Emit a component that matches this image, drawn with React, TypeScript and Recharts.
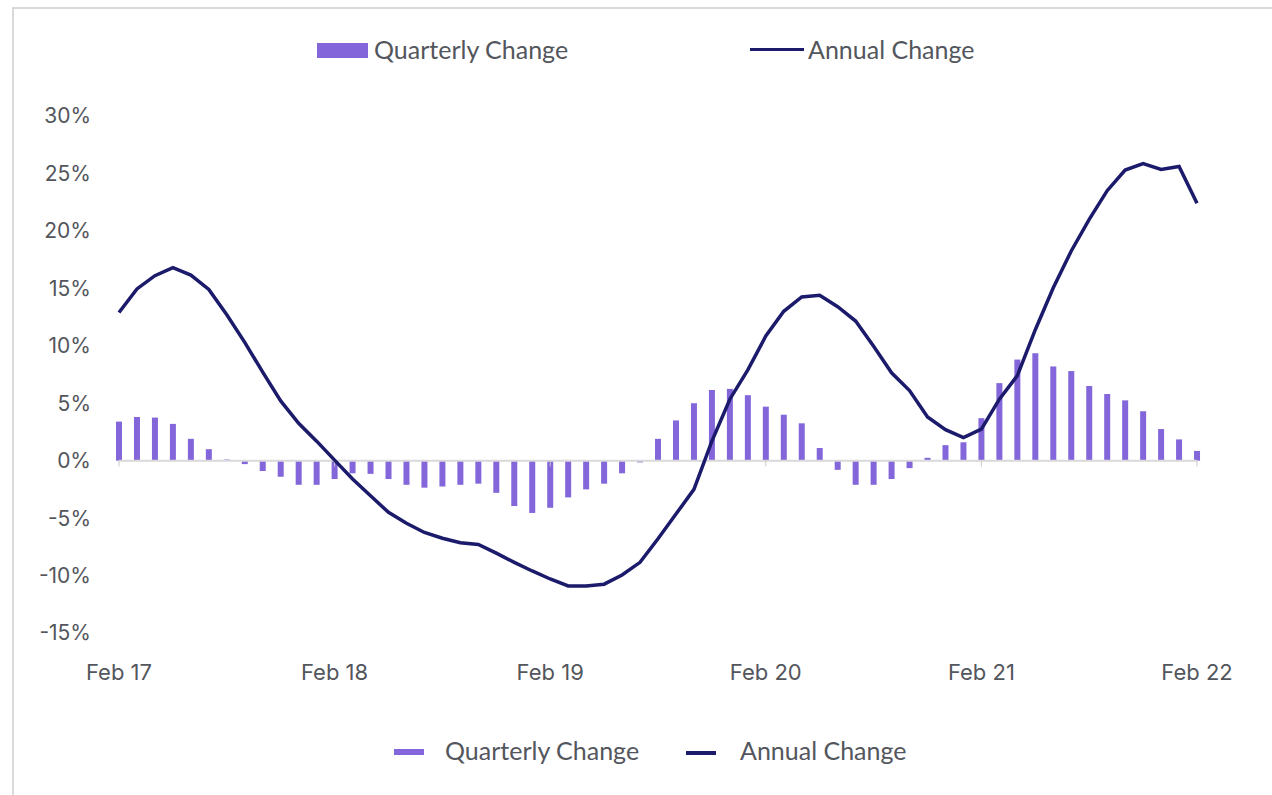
import { ComposedChart, Bar, Line, XAxis, YAxis, ReferenceLine } from "recharts";

const monthNames = ["Jan", "Feb", "Mar", "Apr", "May", "Jun", "Jul", "Aug", "Sep", "Oct", "Nov", "Dec"];

// monthly labels Feb 17 .. Feb 22
const months = Array.from({ length: 61 }, (_, i) => {
  const m = (1 + i) % 12;
  const y = 17 + Math.floor((1 + i) / 12);
  return `${monthNames[m]} ${y}`;
});

const yearTicks = ["Feb 17", "Feb 18", "Feb 19", "Feb 20", "Feb 21", "Feb 22"];

const quarterlyChange = [
  3.4, 3.8, 3.75, 3.2, 1.9, 1.0, 0.1, -0.3, -0.9, -1.4, -2.1, -2.1,
  -1.6, -1.1, -1.15, -1.6, -2.1, -2.35, -2.25, -2.1, -2.0, -2.8, -3.95, -4.55,
  -4.1, -3.2, -2.5, -2.0, -1.1, -0.15, 1.9, 3.5, 5.0, 6.15, 6.25, 5.7,
  4.7, 4.0, 3.25, 1.1, -0.8, -2.1, -2.1, -1.6, -0.65, 0.25, 1.35, 1.6,
  3.7, 6.75, 8.8, 9.35, 8.2, 7.8, 6.5, 5.8, 5.25, 4.3, 2.75, 1.85,
  0.85,
];

const annualChange = [
  12.9, 14.95, 16.1, 16.8, 16.15, 14.9, 12.7, 10.3, 7.7, 5.2, 3.25, 1.7,
  0.05, -1.6, -3.05, -4.5, -5.45, -6.25, -6.75, -7.15, -7.3, -8.05, -8.85, -9.6,
  -10.3, -10.9, -10.9, -10.75, -9.95, -8.85, -6.8, -4.65, -2.5, 1.7, 5.35, 7.9,
  10.85, 13.0, 14.25, 14.4, 13.4, 12.15, 9.95, 7.65, 6.1, 3.8, 2.7, 2.0,
  2.75, 5.35, 7.4, 11.4, 15.05, 18.25, 21.0, 23.5, 25.3, 25.85, 25.35, 25.6,
  22.4,
];

const yTicks = [-15, -10, -5, 0, 5, 10, 15, 20, 25, 30];

const data = months.map((month, i) => ({
  month,
  quarterly: quarterlyChange[i],
  annual: annualChange[i],
}));

const BAR_COLOR = "#8366d9";
const LINE_COLOR = "#1b1a6b";
const TEXT_COLOR = "#53565c";

const legendText: React.CSSProperties = {
  position: "absolute",
  fontFamily: "Lato, sans-serif",
  fontSize: 25,
  lineHeight: "25px",
  color: TEXT_COLOR,
  whiteSpace: "nowrap",
};

export default function App() {
  return (
    <div
      style={{
        position: "fixed",
        left: 0,
        top: 0,
        width: 1272,
        height: 795,
        background: "#fff",
        overflow: "hidden",
      }}
    >
      <div
        style={{
          position: "absolute",
          left: 12,
          top: 7,
          width: 1300,
          height: 820,
          borderTop: "2px solid #d9d9d9",
          borderLeft: "2px solid #d9d9d9",
        }}
      />

      {/* top legend */}
      <div style={{ position: "absolute", left: 317, top: 43, width: 51, height: 15, background: BAR_COLOR }} />
      <div style={{ ...legendText, left: 374, top: 37 }}>Quarterly Change</div>
      <div style={{ position: "absolute", left: 750, top: 48, width: 54, height: 3, background: LINE_COLOR }} />
      <div style={{ ...legendText, left: 808, top: 37 }}>Annual Change</div>

      {/* bottom legend */}
      <div style={{ position: "absolute", left: 394, top: 749, width: 30, height: 6, background: BAR_COLOR }} />
      <div style={{ ...legendText, left: 445, top: 738 }}>Quarterly Change</div>
      <div style={{ position: "absolute", left: 686, top: 751, width: 30, height: 4, background: LINE_COLOR }} />
      <div style={{ ...legendText, left: 740, top: 738 }}>Annual Change</div>

      <div style={{ position: "absolute", left: 0, top: 0 }}>
        <ComposedChart
          width={1272}
          height={795}
          data={data}
          margin={{ top: 116, right: 66, left: 50, bottom: 132 }}
        >
          <XAxis
            dataKey="month"
            interval={11}
            axisLine={false}
            tickLine={false}
            tickSize={0}
            tickMargin={31}
            height={30}
            tick={{ fill: TEXT_COLOR, fontSize: 22, fontFamily: "Inter, sans-serif" }}
          />
          <YAxis
            domain={[-15, 30]}
            ticks={yTicks}
            interval={0}
            width={60}
            axisLine={false}
            tickLine={false}
            tickSize={0}
            tickMargin={19}
            tickFormatter={(v: number) => `${v}%`}
            tick={{ fill: TEXT_COLOR, fontSize: 21, fontFamily: "Inter, sans-serif" }}
          />
          <ReferenceLine
            segment={[
              { x: months[0], y: 0 },
              { x: months[months.length - 1], y: 0 },
            ]}
            stroke="#d9d9d9"
            strokeWidth={2}
          />
          {yearTicks.map((t) => (
            <ReferenceLine
              key={t}
              segment={[
                { x: t, y: 0 },
                { x: t, y: -0.5 },
              ]}
              stroke="#c8c8c8"
              strokeWidth={1}
            />
          ))}
          <Bar dataKey="quarterly" fill={BAR_COLOR} barSize={6} isAnimationActive={false} />
          <Line
            type="linear"
            dataKey="annual"
            stroke={LINE_COLOR}
            strokeWidth={3.5}
            dot={false}
            activeDot={false}
            isAnimationActive={false}
          />
        </ComposedChart>
      </div>
    </div>
  );
}
